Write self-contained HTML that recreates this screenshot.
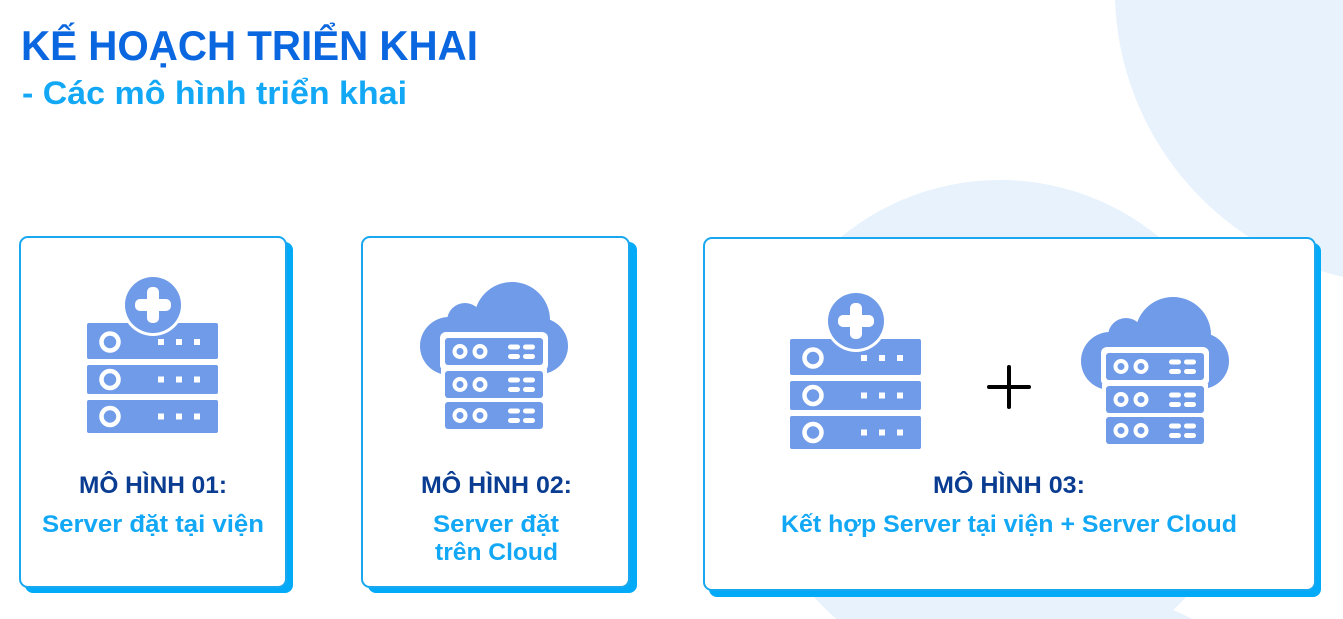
<!DOCTYPE html>
<html><head><meta charset="utf-8"><style>
html,body{margin:0;padding:0;background:#fff;width:1343px;height:619px;overflow:hidden;}
svg{display:block;}
text{font-family:"Liberation Sans",sans-serif;font-weight:bold;}
</style></head><body>
<svg width="1343" height="619" viewBox="0 0 1343 619" xmlns="http://www.w3.org/2000/svg">
<defs>
<g id="srv">
  <g fill="#6f9be8">
    <rect x="0" y="0" width="131" height="36" rx="2"/>
    <rect x="0" y="42" width="131" height="29" rx="2"/>
    <rect x="0" y="77" width="131" height="33" rx="2"/>
  </g>
  <g fill="none" stroke="#fff" stroke-width="4.5">
    <circle cx="23" cy="19" r="8.5"/>
    <circle cx="23" cy="56.5" r="8.5"/>
    <circle cx="23" cy="93.5" r="8.5"/>
  </g>
  <g fill="#fff">
    <rect x="71" y="16" width="6" height="6"/><rect x="89" y="16" width="6" height="6"/><rect x="107" y="16" width="6" height="6"/>
    <rect x="71" y="53.5" width="6" height="6"/><rect x="89" y="53.5" width="6" height="6"/><rect x="107" y="53.5" width="6" height="6"/>
    <rect x="71" y="90.5" width="6" height="6"/><rect x="89" y="90.5" width="6" height="6"/><rect x="107" y="90.5" width="6" height="6"/>
  </g>
  <circle cx="66" cy="-18" r="31" fill="#fff"/>
  <circle cx="66" cy="-18" r="28" fill="#6f9be8"/>
  <rect x="60" y="-36" width="12" height="36" rx="5" fill="#fff"/>
  <rect x="48" y="-24" width="36" height="12" rx="5" fill="#fff"/>
</g>
<g id="row">
  <rect x="0" y="0" width="98" height="27" rx="3" fill="#6f9be8"/>
  <circle cx="15" cy="13.5" r="5.5" fill="none" stroke="#fff" stroke-width="4"/>
  <circle cx="35" cy="13.5" r="5.5" fill="none" stroke="#fff" stroke-width="4"/>
  <g fill="#fff">
    <rect x="63" y="6.5" width="12" height="5" rx="2.5"/><rect x="78" y="6.5" width="12" height="5" rx="2.5"/>
    <rect x="63" y="16" width="12" height="5" rx="2.5"/><rect x="78" y="16" width="12" height="5" rx="2.5"/>
  </g>
</g>
<g id="cld">
  <g fill="#6f9be8">
    <circle cx="512" cy="320" r="38"/>
    <circle cx="465" cy="321" r="18"/>
    <circle cx="449" cy="346" r="29"/>
    <circle cx="540" cy="346" r="28"/>
    <rect x="449" y="318" width="92" height="55"/>
  </g>
  <rect x="440" y="332" width="108" height="39" rx="6" fill="#fff"/>
  <rect x="441" y="369" width="106" height="62" fill="#fff"/>
  <use href="#row" x="445" y="338"/>
  <use href="#row" x="445" y="371"/>
  <use href="#row" x="445" y="402"/>
</g>
</defs>
<path d="M1115,0 A295,295 0 0 0 1343,277 L1343,0 Z" fill="#e7f2fc"/>
<path d="M836.4,619 A250,250 0 1 1 1163.6,619 Z" fill="#e7f2fc"/>
<path d="M999.8,619 A205,205 0 0 1 1192.2,619 Z" fill="#e7f2fc"/>

<text x="21" y="60" font-size="42" fill="#0b67e0" textLength="457" lengthAdjust="spacingAndGlyphs">KẾ HOẠCH TRIỂN KHAI</text>
<text x="22" y="104" font-size="32" fill="#12a8f5" textLength="385" lengthAdjust="spacingAndGlyphs">- Các mô hình triển khai</text>

<rect x="25" y="242" width="268" height="351" rx="8" fill="#03aaf8"/>
<rect x="20" y="237" width="266" height="350" rx="8" fill="#fff" stroke="#19a8f0" stroke-width="2"/>
<rect x="368" y="242" width="269" height="351" rx="8" fill="#03aaf8"/>
<rect x="362" y="237" width="267" height="350" rx="8" fill="#fff" stroke="#19a8f0" stroke-width="2"/>
<rect x="709" y="243" width="612" height="354" rx="8" fill="#03aaf8"/>
<rect x="704" y="238" width="611" height="352" rx="8" fill="#fff" stroke="#19a8f0" stroke-width="2"/>

<use href="#srv" transform="translate(87,323)"/>
<use href="#cld"/>
<use href="#srv" transform="translate(790,339)"/>
<use href="#cld" transform="translate(661,15)"/>
<g stroke="#000" stroke-width="4" stroke-linecap="round">
  <line x1="989" y1="387" x2="1029" y2="387"/>
  <line x1="1009" y1="367" x2="1009" y2="407"/>
</g>

<g font-size="24">
<text x="79" y="493" fill="#0a3d91" textLength="148" lengthAdjust="spacingAndGlyphs">MÔ HÌNH 01:</text>
<text x="42" y="532" fill="#12a8f5" textLength="222" lengthAdjust="spacingAndGlyphs">Server đặt tại viện</text>
<text x="421" y="493" fill="#0a3d91" textLength="151" lengthAdjust="spacingAndGlyphs">MÔ HÌNH 02:</text>
<text x="433" y="532" fill="#12a8f5" textLength="126" lengthAdjust="spacingAndGlyphs">Server đặt</text>
<text x="435" y="560" fill="#12a8f5" textLength="123" lengthAdjust="spacingAndGlyphs">trên Cloud</text>
<text x="933" y="493" fill="#0a3d91" textLength="152" lengthAdjust="spacingAndGlyphs">MÔ HÌNH 03:</text>
<text x="781" y="532" fill="#12a8f5" textLength="456" lengthAdjust="spacingAndGlyphs">Kết hợp Server tại viện + Server Cloud</text>
</g>
</svg>
</body></html>
